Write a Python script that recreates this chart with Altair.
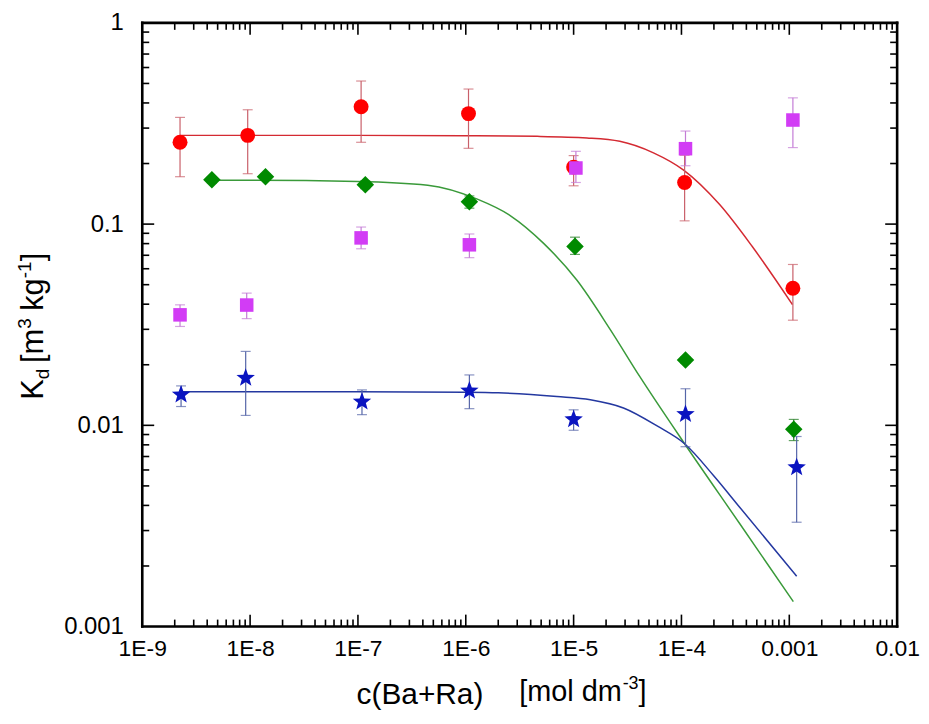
import altair as alt
import pandas as pd

# ---------------- data ----------------
red_x = [2.24e-9, 9.5e-9, 1.07e-7, 1.06e-6, 1.0e-5, 1.07e-4, 1.08e-3]
red_y = [0.255, 0.276, 0.383, 0.354, 0.192, 0.161, 0.048]
red_lo = [0.172, 0.178, 0.255, 0.238, 0.155, 0.1038, 0.0333]
red_hi = [0.339, 0.370, 0.514, 0.469, 0.219, 0.220, 0.063]

green_x = [4.42e-9, 1.39e-8, 1.17e-7, 1.08e-6, 1.03e-5, 1.09e-4, 1.10e-3]
green_y = [0.166, 0.172, 0.157, 0.129, 0.0775, 0.0211, 0.00955]
green_lo = [0.160, 0.166, 0.150, 0.120, 0.0707, 0.0203, 0.0084]
green_hi = [0.172, 0.178, 0.164, 0.138, 0.0861, 0.0219, 0.0107]

mag_x = [2.24e-9, 9.3e-9, 1.07e-7, 1.08e-6, 1.05e-5, 1.09e-4, 1.08e-3]
mag_y = [0.0354, 0.0396, 0.0854, 0.0789, 0.190, 0.237, 0.329]
mag_lo = [0.031, 0.0339, 0.0754, 0.0681, 0.161, 0.195, 0.240]
mag_hi = [0.0397, 0.0454, 0.0967, 0.0893, 0.230, 0.290, 0.424]

blue_x = [2.29e-9, 9.1e-9, 1.09e-7, 1.08e-6, 1.0e-5, 1.09e-4, 1.17e-3]
blue_y = [0.0142, 0.0172, 0.0131, 0.01485, 0.0107, 0.01136, 0.00618]
blue_lo = [0.0124, 0.0112, 0.0113, 0.0121, 0.00945, 0.00783, 0.0033]
blue_hi = [0.0157, 0.0233, 0.0150, 0.0178, 0.01194, 0.0152, 0.0088]

# fitted curves
red_fit_x = [2.24e-9, 1e-8, 1e-7, 1e-6, 4.6e-6, 1.33e-5, 2.68e-5, 5.5e-5, 1.04e-4, 2.26e-4, 4.57e-4, 1.07e-3]
red_fit_y = [0.276, 0.276, 0.276, 0.275, 0.273, 0.268, 0.258, 0.226, 0.186, 0.125, 0.0769, 0.0398]

green_fit_x = [4.42e-9, 1e-8, 1e-7, 4.44e-7, 1.28e-6, 2.6e-6, 5.3e-6, 1.07e-5, 2.18e-5, 4.1e-5, 1.07e-4, 3.45e-4, 1.09e-3]
green_fit_y = [0.165, 0.165, 0.163, 0.156, 0.133, 0.110, 0.080, 0.0527, 0.0300, 0.0175, 0.0081, 0.00326, 0.00133]

blue_fit_x = [2.29e-9, 1e-7, 1e-6, 2e-6, 7e-6, 1.43e-5, 2.9e-5, 6e-5, 1.07e-4, 2e-4, 3.45e-4, 1.17e-3]
blue_fit_y = [0.0147, 0.0147, 0.0146, 0.0145, 0.0139, 0.0134, 0.0122, 0.0099, 0.0081, 0.0056, 0.00393, 0.00178]

x_major = [1e-9, 1e-8, 1e-7, 1e-6, 1e-5, 1e-4, 1e-3, 1e-2]
y_major = [1e-3, 1e-2, 1e-1, 1.0]
minor_mult = [2, 3, 4, 5, 6, 7, 8, 9]

# ---------------- layout ----------------
W, H = 759, 607
TOP = 13
FONT = "Liberation Sans"

xscale = alt.Scale(type="log", domain=[1e-9, 1e-2], nice=False)
yscale = alt.Scale(type="log", domain=[1e-3, 1], nice=False)

xaxis = alt.Axis(values=x_major, title=None, ticks=False, domain=False, grid=False,
                 labelExpr="datum.value >= 0.001 ? '' + datum.value : '1E' + round(log(datum.value) / LN10)",
                 labelFont=FONT, labelFontSize=23, labelColor="black", labelPadding=11,
                 labelFlush=False, labelOverlap=False)
yaxis = alt.Axis(values=y_major, title=None, ticks=False, domain=False, grid=False,
                 labelExpr="'' + datum.value",
                 labelFont=FONT, labelFontSize=24, labelColor="black", labelPadding=19,
                 labelFlush=False, labelOverlap=False, labelBaseline="middle")


def X(field="x"):
    return alt.X(f"{field}:Q", scale=xscale, axis=xaxis)


def Y(field="y"):
    return alt.Y(f"{field}:Q", scale=yscale, axis=yaxis)


def pts(x, y, lo, hi):
    return pd.DataFrame({"x": x, "y": y, "lo": lo, "hi": hi})


def caps(x, lo, hi):
    return pd.DataFrame({"x": list(x) + list(x), "c": list(lo) + list(hi)})


STAR = ("M0,-1 L0.247,-0.34 L0.951,-0.309 L0.399,0.13 L0.588,0.809 L0,0.42 "
        "L-0.588,0.809 L-0.399,0.13 L-0.951,-0.309 L-0.247,-0.34 Z")

series = [
    dict(x=red_x, y=red_y, lo=red_lo, hi=red_hi, fx=red_fit_x, fy=red_fit_y,
         color="#FF0000", line="#D42A32", err="#C9606A", shape="circle", size=225),
    dict(x=green_x, y=green_y, lo=green_lo, hi=green_hi, fx=green_fit_x, fy=green_fit_y,
         color="#008A00", line="#3A9A3A", err="#207A20", shape="diamond", size=310),
    dict(x=mag_x, y=mag_y, lo=mag_lo, hi=mag_hi, fx=None, fy=None,
         color="#D23CF5", line=None, err="#C47CD6", shape="square", size=185),
    dict(x=blue_x, y=blue_y, lo=blue_lo, hi=blue_hi, fx=blue_fit_x, fy=blue_fit_y,
         color="#0A14C0", line="#2438A0", err="#5565A8", shape=STAR, size=380),
]

layers = []
# fit lines
for s in series:
    if s["fx"] is not None:
        df = pd.DataFrame({"x": s["fx"], "y": s["fy"]})
        layers.append(alt.Chart(df).mark_line(color=s["line"], strokeWidth=1.5, interpolate="monotone")
                      .encode(x=X(), y=Y()))
# error bars
for s in series:
    d = pts(s["x"], s["y"], s["lo"], s["hi"])
    layers.append(alt.Chart(d).mark_rule(color=s["err"], strokeWidth=1.2)
                  .encode(x=X(), y=Y("lo"), y2="hi:Q"))
    c = caps(s["x"], s["lo"], s["hi"])
    layers.append(alt.Chart(c).mark_tick(color=s["err"], thickness=1.2, size=10, orient="horizontal")
                  .encode(x=X(), y=Y("c")))
# markers
for s in series:
    d = pts(s["x"], s["y"], s["lo"], s["hi"])
    layers.append(alt.Chart(d).mark_point(shape=s["shape"], filled=True, opacity=1,
                                          color=s["color"], size=s["size"])
                  .encode(x=X(), y=Y()))

# inward ticks (major and minor) on all four sides
xmin = [m * d for d in x_major[:-1] for m in minor_mult]
ymin = [m * d for d in y_major[:-1] for m in minor_mult]
xt_major = pd.DataFrame({"x": x_major[1:-1]})
xt_minor = pd.DataFrame({"x": xmin})
yt_major = pd.DataFrame({"y": y_major[1:-1]})
yt_minor = pd.DataFrame({"y": ymin})

for df, ln in ((xt_major, 12), (xt_minor, 7)):
    layers.append(alt.Chart(df).mark_rule(color="black", strokeWidth=1.6).encode(
        x=X(), y=alt.value(H), y2=alt.value(H - ln)))
    layers.append(alt.Chart(df).mark_rule(color="black", strokeWidth=1.6).encode(
        x=X(), y=alt.value(0), y2=alt.value(ln)))
for df, ln in ((yt_major, 12), (yt_minor, 7)):
    layers.append(alt.Chart(df).mark_rule(color="black", strokeWidth=1.6).encode(
        y=Y(), x=alt.value(0), x2=alt.value(ln)))
    layers.append(alt.Chart(df).mark_rule(color="black", strokeWidth=1.6).encode(
        y=Y(), x=alt.value(W), x2=alt.value(W - ln)))

one = pd.DataFrame({"a": [0]})

# plot frame
for enc in (dict(x=alt.value(0), x2=alt.value(W), y=alt.value(0)),
            dict(x=alt.value(0), x2=alt.value(W), y=alt.value(H)),
            dict(x=alt.value(0), y=alt.value(0), y2=alt.value(H)),
            dict(x=alt.value(W), y=alt.value(0), y2=alt.value(H))):
    layers.append(alt.Chart(one).mark_rule(color="black", strokeWidth=2.6, strokeCap="square").encode(**enc))


# axis titles as text pieces (sub/superscripts)
def txt(s, x, y, size, dx=0, dy=0, angle=0, align="left"):
    kw = dict(text=s, fontSize=size, font=FONT, color="black", align=align,
              baseline="alphabetic", dx=dx, dy=dy)
    if angle:
        kw["angle"] = angle
    return alt.Chart(one).mark_text(**kw).encode(x=alt.value(x), y=alt.value(y))


OY = 8 + TOP  # page y of plot top
BIG, SMALL = 31, 19
ax, ay = 43 - 143, 400 - OY
layers += [
    txt("K", ax, ay, BIG, 0, 0, 270),
    txt("d", ax, ay, SMALL, 20.7, 6, 270),
    txt("[m", ax, ay, BIG, 37.0, 0, 270),
    txt("3", ax, ay, SMALL, 71.5, -12, 270),
    txt("kg", ax, ay, BIG, 89.5, 0, 270),
    txt("-1", ax, ay, SMALL, 122.3, -12, 270),
    txt("]", ax, ay, BIG, 139.2, 0, 270),
]
bx, by = 522 - 143, 703 - OY
layers += [
    txt("c(Ba+Ra)", 486 - 143, 706 - OY, 30, align="right"),
    txt("[mol dm", bx, by, 29),
    txt("-3", bx, by, 18, dx=104, dy=-12),
    txt("]", bx, by, 29, dx=120),
]

chart = (alt.layer(*layers)
         .properties(width=W, height=H,
                     autosize=alt.AutoSizeParams(type="none"),
                     padding={"left": 135, "top": TOP, "right": 24, "bottom": 92})
         .configure_view(strokeWidth=0)
         .configure(background="white"))

chart.save("out.html", embed_options={"renderer": "svg", "actions": False})
